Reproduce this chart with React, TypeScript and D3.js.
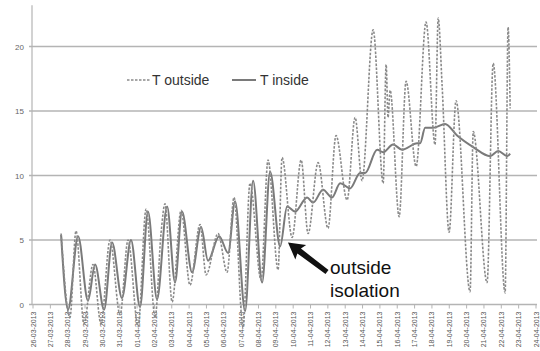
import React, { useEffect, useRef } from 'react';
import * as d3 from 'd3';

// day labels along the x axis (one per day, 26-03-2013 .. 24-04-2013)
const dayLabels = [
  '26-03-2013', '27-03-2013', '28-03-2013', '29-03-2013', '30-03-2013', '31-03-2013',
  '01-04-2013', '02-04-2013', '03-04-2013', '04-04-2013', '05-04-2013', '06-04-2013',
  '07-04-2013', '08-04-2013', '09-04-2013', '10-04-2013', '11-04-2013', '12-04-2013',
  '13-04-2013', '14-04-2013', '15-04-2013', '16-04-2013', '17-04-2013', '18-04-2013',
  '19-04-2013', '20-04-2013', '21-04-2013', '22-04-2013', '23-04-2013', '24-04-2013',
];

const yTicks = [0, 5, 10, 15, 20];

// T outside: time in days since 26-03-2013 00:00, temperature in °C
const outsideDays = [
  1.62, 2.13, 2.48, 2.94, 3.46, 3.92, 4.44, 5.02, 5.48, 6.06, 6.52, 7.04, 7.38, 7.61,
  8.02, 8.54, 9.05, 9.63, 9.98, 10.67, 11.19, 11.59, 12.11, 12.51, 13.15, 13.55, 14.13,
  14.36, 14.94, 15.46, 15.86, 16.44, 17.01, 17.47, 18.11, 18.57, 18.97, 19.61, 20.19,
  20.36, 20.47, 20.59, 21.11, 21.51, 22.09, 22.66, 23.18, 23.36, 23.59, 23.99, 24.39,
  25.2, 25.38, 26.18, 26.53, 27.22, 27.39, 27.51,
];
const outsideTemps = [
  5.5, -1.0, 5.7, -1.5, 3.1, -1.5, 5.0, -0.8, 5.0, -1.7, 7.4, -1.0, 5.5, 7.8,
  0.2, 7.3, 1.5, 6.2, 2.3, 5.5, 2.5, 8.3, -1.8, 9.4, 1.9, 11.2, 2.7,
  11.4, 5.2, 11.2, 5.5, 11.0, 5.9, 13.1, 8.1, 14.5, 9.6, 21.3, 9.4,
  18.6, 14.5, 16.6, 6.8, 17.3, 10.7, 21.9, 12.4, 22.2, 16.9, 5.6, 15.8,
  1.0, 13.4, 1.7, 18.7, 0.9, 21.5, 15.2,
];

// T inside
const insideDays = [
  1.62, 2.02, 2.6, 3.17, 3.58, 4.1, 4.56, 5.13, 5.65, 6.17, 6.63, 7.15, 7.73, 8.19,
  8.59, 9.17, 9.69, 10.09, 10.73, 11.25, 11.65, 12.23, 12.69, 13.21, 13.67, 14.25,
  14.65, 15.11, 15.8, 16.15, 16.72, 17.24, 17.71, 18.28, 18.86, 19.15, 19.84, 20.19,
  20.76, 21.28, 22.15, 22.32, 22.61, 23.07, 23.76, 24.45, 25.38, 26.36, 26.82, 27.34, 27.51,
];
const insideTemps = [
  5.4, -0.4, 5.3, 0.3, 3.1, -0.4, 4.8, 0.5, 5.0, -0.2, 7.2, 0.4, 7.6, 1.7,
  7.2, 2.5, 6.0, 3.4, 5.3, 4.0, 8.0, -0.5, 9.6, 1.7, 10.3, 4.5,
  7.6, 7.2, 8.3, 7.9, 8.9, 8.3, 9.4, 9.0, 10.2, 10.2, 12.0, 11.8,
  12.4, 12.0, 12.5, 12.5, 13.7, 13.7, 14.0, 13.1, 12.2, 11.5, 11.9, 11.5, 11.7,
];

const W = 540;
const H = 351;
const FONT = '"Liberation Sans", Arial, sans-serif';

export default function App() {
  const ref = useRef<SVGSVGElement>(null);

  useEffect(() => {
    if (!ref.current) return;
    const svg = d3.select(ref.current);
    svg.selectAll('*').remove();

    const x = d3.scaleLinear().domain([0, dayLabels.length - 1]).range([33, 536]);
    const y = d3.scaleLinear().domain([0, 20]).range([304.5, 46.5]);
    const yTop = y(23.2);

    // horizontal grid
    svg.append('g')
      .selectAll('line')
      .data(yTicks)
      .join('line')
      .attr('x1', 29)
      .attr('x2', 537)
      .attr('y1', d => y(d))
      .attr('y2', d => y(d))
      .attr('stroke', '#b4b4b4')
      .attr('stroke-width', 1.5);

    // y axis line
    svg.append('line')
      .attr('x1', 32).attr('x2', 32)
      .attr('y1', yTop).attr('y2', y(0))
      .attr('stroke', '#b4b4b4')
      .attr('stroke-width', 1.2);

    svg.append('g')
      .selectAll('text')
      .data(yTicks)
      .join('text')
      .attr('x', 24)
      .attr('y', d => y(d) + 3)
      .attr('text-anchor', 'end')
      .style('font-family', FONT)
      .style('font-size', '8px')
      .attr('fill', '#666')
      .text(d => d);

    // x ticks and rotated labels
    const xg = svg.append('g');
    xg.selectAll('line')
      .data(dayLabels)
      .join('line')
      .attr('x1', (_, i) => x(i))
      .attr('x2', (_, i) => x(i))
      .attr('y1', y(0))
      .attr('y2', y(0) + 4)
      .attr('stroke', '#b4b4b4');
    xg.selectAll('text')
      .data(dayLabels)
      .join('text')
      .attr('transform', (_, i) => `translate(${x(i) + 2.5},${y(0) + 7}) rotate(-90)`)
      .attr('text-anchor', 'end')
      .style('font-family', FONT)
      .style('font-size', '7px')
      .attr('fill', '#555')
      .text(d => d);

    const line = d3.line<[number, number]>()
      .x(d => x(d[0]))
      .y(d => y(d[1]))
      .curve(d3.curveMonotoneX);

    const outside = outsideDays.map((d, i) => [d, outsideTemps[i]] as [number, number]);
    const inside = insideDays.map((d, i) => [d, insideTemps[i]] as [number, number]);

    svg.append('path')
      .datum(inside)
      .attr('fill', 'none')
      .attr('stroke', '#7a7a7a')
      .attr('stroke-width', 2)
      .attr('d', line);

    svg.append('path')
      .datum(outside)
      .attr('fill', 'none')
      .attr('stroke', '#8a8a8a')
      .attr('stroke-width', 1.6)
      .attr('stroke-dasharray', '2.5 1.5')
      .attr('d', line);

    // legend
    const lg = svg.append('g').style('font-family', FONT).style('font-size', '14px');
    lg.append('line')
      .attr('x1', 127).attr('x2', 151).attr('y1', 80).attr('y2', 80)
      .attr('stroke', '#8a8a8a').attr('stroke-width', 1.6).attr('stroke-dasharray', '2.5 1.5');
    lg.append('text').attr('x', 152).attr('y', 85).attr('fill', '#333').text('T outside');
    lg.append('line')
      .attr('x1', 232).attr('x2', 256).attr('y1', 80).attr('y2', 80)
      .attr('stroke', '#7a7a7a').attr('stroke-width', 2);
    lg.append('text').attr('x', 260).attr('y', 85).attr('fill', '#333').text('T inside');

    // annotation arrow
    const tipX = x(14.7);
    const tipY = y(4.8);
    const ang = Math.atan2(272 - tipY, 327 - tipX);
    const len = Math.hypot(327 - tipX, 272 - tipY);
    const ann = svg.append('g').attr('transform', `translate(${tipX},${tipY}) rotate(${(ang * 180) / Math.PI})`);
    ann.append('path')
      .attr('d', `M0,0 L16,-9 L14,-3 L${len},-2.5 L${len},2.5 L14,3 L16,9 Z`)
      .attr('fill', '#111');

    const tg = svg.append('g').style('font-family', FONT).style('font-size', '19px').attr('fill', '#111');
    tg.append('text').attr('x', 330).attr('y', 274).text('outside');
    tg.append('text').attr('x', 330).attr('y', 297).text('isolation');
  }, []);

  return (
    <svg ref={ref} width={W} height={H} style={{ display: 'block', position: 'absolute', left: 0, top: 0, background: '#fff' }} />
  );
}
